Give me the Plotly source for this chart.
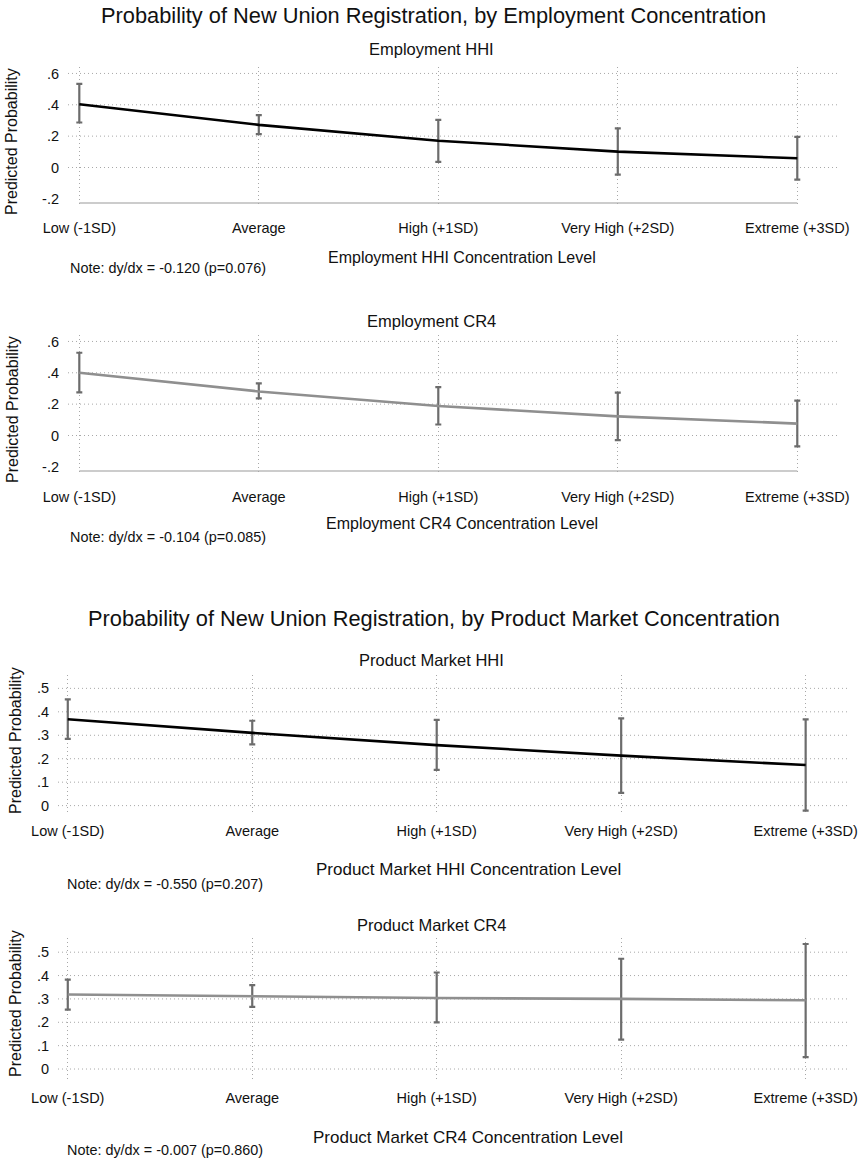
import plotly.graph_objects as go

W, H = 867, 1163

categories = ["Low (-1SD)", "Average", "High (+1SD)", "Very High (+2SD)", "Extreme (+3SD)"]

emp_hhi_pred = [0.404, 0.272, 0.171, 0.101, 0.059]
emp_hhi_lo = [0.287, 0.213, 0.036, -0.046, -0.078]
emp_hhi_hi = [0.534, 0.334, 0.304, 0.249, 0.195]

emp_cr4_pred = [0.400, 0.281, 0.188, 0.122, 0.076]
emp_cr4_lo = [0.275, 0.237, 0.070, -0.030, -0.070]
emp_cr4_hi = [0.528, 0.332, 0.308, 0.273, 0.222]

pm_hhi_pred = [0.368, 0.310, 0.258, 0.213, 0.173]
pm_hhi_lo = [0.285, 0.261, 0.152, 0.054, -0.021]
pm_hhi_hi = [0.453, 0.362, 0.366, 0.372, 0.368]

pm_cr4_pred = [0.319, 0.310, 0.304, 0.300, 0.294]
pm_cr4_lo = [0.254, 0.266, 0.200, 0.126, 0.051]
pm_cr4_hi = [0.383, 0.359, 0.413, 0.472, 0.535]

emp_yticks = [-0.2, 0, 0.2, 0.4, 0.6]
emp_yticktext = ["-.2", "0", ".2", ".4", ".6"]
pm_yticks = [0, 0.1, 0.2, 0.3, 0.4, 0.5]
pm_yticktext = ["0", ".1", ".2", ".3", ".4", ".5"]

main_titles = ["Probability of New Union Registration, by Employment Concentration",
               "Probability of New Union Registration, by Product Market Concentration"]
panel_titles = ["Employment HHI", "Employment CR4", "Product Market HHI", "Product Market CR4"]
x_titles = ["Employment HHI Concentration Level", "Employment CR4 Concentration Level",
            "Product Market HHI Concentration Level", "Product Market CR4 Concentration Level"]
notes = ["Note: dy/dx = -0.120 (p=0.076)", "Note: dy/dx = -0.104 (p=0.085)",
         "Note: dy/dx = -0.550 (p=0.207)", "Note: dy/dx = -0.007 (p=0.860)"]

FONT = "Liberation Sans, Arial, Helvetica, sans-serif"
GRID = "#a8a8a8"
DOT = "1px,3px"
ERR = "#6c6c6c"
TXT = "#111111"

panels = [
    dict(pred=emp_hhi_pred, lo=emp_hhi_lo, hi=emp_hhi_hi, color="#000000",
         yt=emp_yticks, ytt=emp_yticktext, yr=[-0.252, 0.643], xpx=(68, 840), ypx=(66.7, 207),
         xr=[-0.063, 4.238], axisline=-0.226, xtsize=16,
         sub_y=49, lab_y=227, xt_y=258, note_y=268, xt_x=462, note_x=68, ytitle_y=142, ytitle_x=12),
    dict(pred=emp_cr4_pred, lo=emp_cr4_lo, hi=emp_cr4_hi, color="#8f8f8f",
         yt=emp_yticks, ytt=emp_yticktext, yr=[-0.252, 0.643], xpx=(68, 840), ypx=(334.7, 475),
         xr=[-0.063, 4.238], axisline=-0.226, xtsize=16,
         sub_y=321, lab_y=496, xt_y=523, note_y=537, xt_x=462, note_x=68, ytitle_y=410, ytitle_x=12),
    dict(pred=pm_hhi_pred, lo=pm_hhi_lo, hi=pm_hhi_hi, color="#000000",
         yt=pm_yticks, ytt=pm_yticktext, yr=[-0.040, 0.557], xpx=(58, 849), ypx=(675, 815),
         xr=[-0.053, 4.235], axisline=None, xtsize=17,
         sub_y=660, lab_y=830, xt_y=869, note_y=884, xt_x=468, note_x=65, ytitle_y=741, ytitle_x=15),
    dict(pred=pm_cr4_pred, lo=pm_cr4_lo, hi=pm_cr4_hi, color="#8f8f8f",
         yt=pm_yticks, ytt=pm_yticktext, yr=[-0.047, 0.562], xpx=(58, 849), ypx=(937.7, 1080),
         xr=[-0.053, 4.235], axisline=None, xtsize=17,
         sub_y=925, lab_y=1097, xt_y=1137, note_y=1150, xt_x=468, note_x=65, ytitle_y=1004, ytitle_x=15),
]


def py(p):
    return 1 - p / H


def px(p):
    return p / W


fig = go.Figure()
shapes = []
annotations = []
layout = {}

for i, p in enumerate(panels):
    n = "" if i == 0 else str(i + 1)
    xa, ya = "x" + n, "y" + n
    up = [h - m for h, m in zip(p["hi"], p["pred"])]
    dn = [m - l for m, l in zip(p["pred"], p["lo"])]
    fig.add_trace(go.Scatter(
        x=categories, y=p["pred"], mode="lines", xaxis=xa, yaxis=ya,
        line=dict(color=p["color"], width=2.6),
        error_y=dict(type="data", symmetric=False, array=up, arrayminus=dn,
                     color=ERR, thickness=2.2, width=3),
        showlegend=False, hoverinfo="skip"))

    x0, x1 = p["xpx"]
    yt0, yb0 = p["ypx"]
    standoff_x = max(0, p["lab_y"] - yb0 - 10)
    layout["xaxis" + n] = dict(
        domain=[px(x0), px(x1)], anchor=ya, type="category",
        categoryorder="array", categoryarray=categories, range=p["xr"],
        showgrid=True, gridcolor=GRID, griddash=DOT, gridwidth=1,
        zeroline=False, showline=False, ticks="", automargin=False,
        tickfont=dict(family=FONT, size=14.5, color=TXT),
        ticklabelstandoff=standoff_x, fixedrange=True)
    layout["yaxis" + n] = dict(
        domain=[py(yb0), py(yt0)], anchor=xa, range=p["yr"],
        tickmode="array", tickvals=p["yt"], ticktext=p["ytt"],
        showgrid=False, zeroline=False, showline=False, ticks="", automargin=False,
        tickfont=dict(family=FONT, size=14.5, color=TXT),
        ticklabelstandoff=8, fixedrange=True)

    for v in p["yt"]:
        if p["axisline"] is not None and v < 0:
            continue
        shapes.append(dict(type="line", xref=xa + " domain", yref=ya, x0=0, x1=1, y0=v, y1=v,
                           line=dict(color=GRID, width=1, dash=DOT), layer="below"))
    if p["axisline"] is not None:
        shapes.append(dict(type="line", xref=xa, yref=ya, x0=0, x1=len(categories) - 1,
                           y0=p["axisline"], y1=p["axisline"],
                           line=dict(color="#cccccc", width=2), layer="below"))

    annotations.append(dict(text=panel_titles[i], xref="paper", yref="paper",
                            x=px(431), y=py(p["sub_y"]), xanchor="center", yanchor="middle",
                            showarrow=False, font=dict(family=FONT, size=16.5, color=TXT)))
    annotations.append(dict(text=x_titles[i], xref="paper", yref="paper",
                            x=px(p["xt_x"]), y=py(p["xt_y"]), xanchor="center", yanchor="middle",
                            showarrow=False, font=dict(family=FONT, size=p["xtsize"], color=TXT)))
    annotations.append(dict(text=notes[i], xref="paper", yref="paper",
                            x=px(p["note_x"]), y=py(p["note_y"]), xanchor="left", yanchor="middle",
                            showarrow=False, font=dict(family=FONT, size=14.4, color=TXT)))
    annotations.append(dict(text="Predicted Probability", xref="paper", yref="paper",
                            x=px(p["ytitle_x"]), y=py(p["ytitle_y"]), xanchor="center", yanchor="middle",
                            textangle=-90, showarrow=False,
                            font=dict(family=FONT, size=16, color=TXT)))

for t, yy in zip(main_titles, [15, 618]):
    annotations.append(dict(text=t, xref="paper", yref="paper", x=0.5, y=py(yy),
                            xanchor="center", yanchor="middle", showarrow=False,
                            font=dict(family=FONT, size=21.8, color=TXT)))

fig.update_layout(
    template="none",
    width=W, height=H, margin=dict(l=0, r=0, t=0, b=0, pad=0),
    paper_bgcolor="white", plot_bgcolor="white",
    shapes=shapes, annotations=annotations, **layout)

fig.write_html(
    "out.html",
    config={"displayModeBar": False, "staticPlot": True},
    post_script="document.body.style.margin='0';document.body.style.padding='0';"
                "document.documentElement.style.margin='0';document.body.style.overflow='hidden';")
